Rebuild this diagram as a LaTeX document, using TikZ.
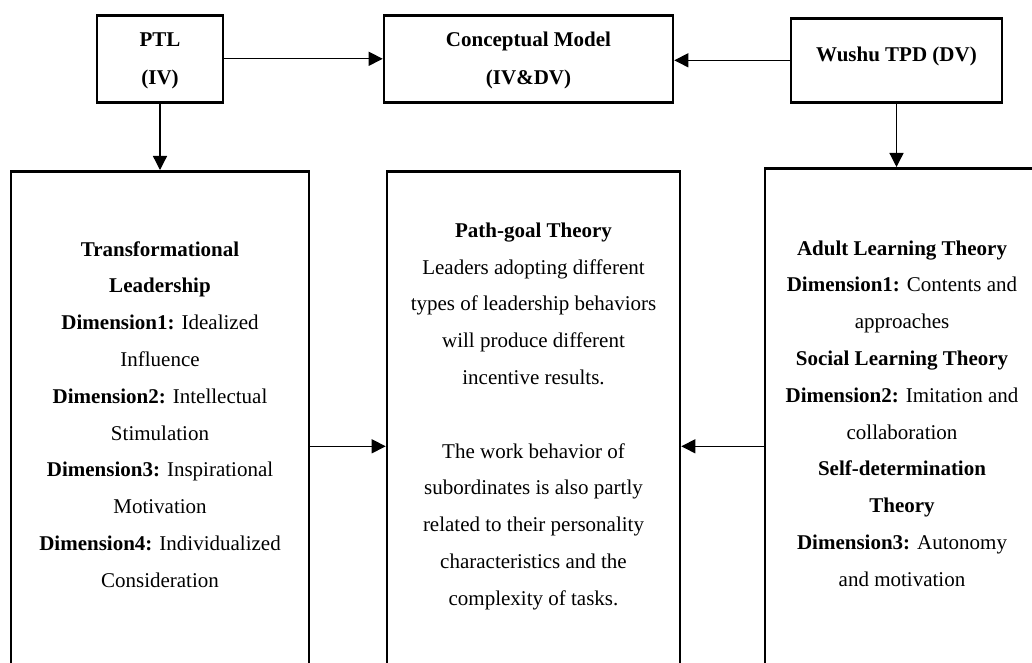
\documentclass[tikz,border=0pt]{standalone}
\usepackage{fontspec}
\setmainfont{Liberation Serif}
\usetikzlibrary{arrows.meta,positioning}

\begin{document}
\begin{tikzpicture}[x=1pt,y=-1pt,->,>={Triangle[length=14pt,width=14pt]},
  line width=1.3pt,
  var box/.style={rectangle,draw,line width=2.6pt,inner ysep=0pt,align=center,
    anchor=north,font=\fontsize{21}{38}\selectfont\bfseries},
  theory box/.style={rectangle,draw,line width=2.6pt,inner ysep=0pt,align=center,
    anchor=north,font=\fontsize{21}{36.8}\selectfont}]

  \useasboundingbox (0,0) rectangle (1032,663);
  \clip (0,0) rectangle (1032,663);

  % variables
  \node[var box,minimum width=126pt,text height=69pt,text depth=18pt] (ptl) at (160,14) {PTL\\(IV)};
  \node[var box,minimum width=289pt,text height=69pt,text depth=18pt] (model) at (528.5,14) {Conceptual Model\\(IV\&DV)};
  \node[var box,minimum width=211pt,text height=43pt,text depth=41pt] (tpd) at (896.5,17) {Wushu TPD (DV)};

  % theories
  \node[theory box,minimum width=298pt,text height=416pt,text depth=134pt] (tl) at (160,170)
    {\textbf{Transformational}\\ \textbf{Leadership}\\
     \textbf{Dimension1:} Idealized\\ Influence\\
     \textbf{Dimension2:} Intellectual\\ Stimulation\\
     \textbf{Dimension3:} Inspirational\\ Motivation\\
     \textbf{Dimension4:} Individualized\\ Consideration};
  \node[theory box,minimum width=293pt,text height=434pt,text depth=116pt] (pg) at (533.5,170)
    {\textbf{Path-goal Theory}\\ Leaders adopting different\\
     types of leadership behaviors\\ will produce different\\
     incentive results.\\[36.8pt]
     The work behavior of\\ subordinates is also partly\\
     related to their personality\\ characteristics and the\\
     complexity of tasks.};
  \node[theory box,minimum width=274pt,text height=418pt,text depth=138pt] (sl) at (902,167)
    {\textbf{Adult Learning Theory}\\ \textbf{Dimension1:} Contents and\\ approaches\\
     \textbf{Social Learning Theory}\\ \textbf{Dimension2:} Imitation and\\ collaboration\\
     \textbf{Self-determination}\\ \textbf{Theory}\\
     \textbf{Dimension3:} Autonomy\\ and motivation};

  \draw (ptl) -- (model);
  \draw (tpd.west) -- (tpd.west -| model.east);
  \draw (ptl) -- (tl);
  \draw (tpd) -- (tpd |- sl.north);
  \draw (tl) -- (pg);
  \draw (sl) -- (pg);
\end{tikzpicture}
\end{document}
